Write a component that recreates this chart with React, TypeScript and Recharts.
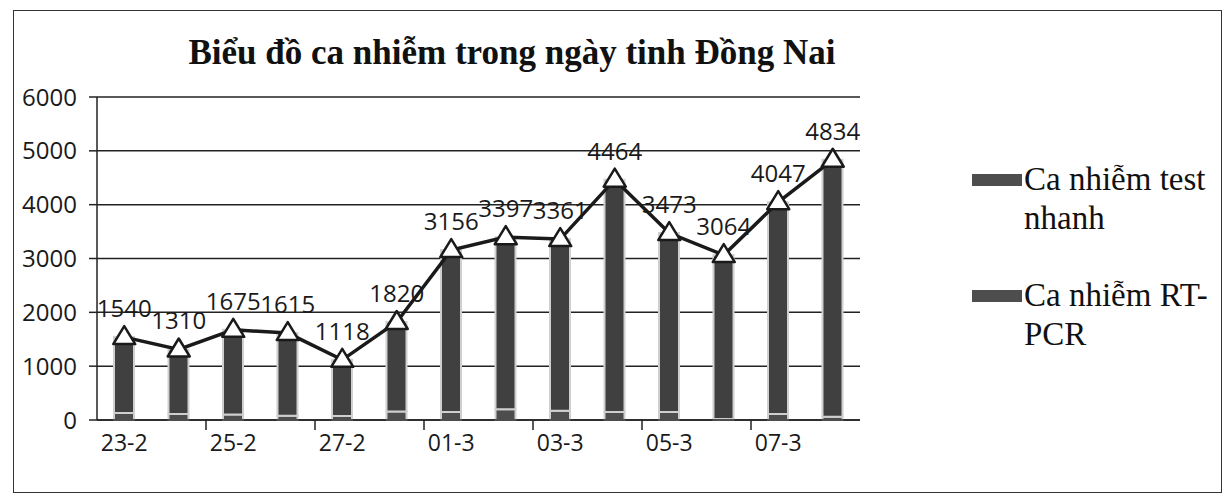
import {
    ComposedChart,
    Bar,
    Line,
    XAxis,
    YAxis,
    CartesianGrid,
    Legend,
    LabelList,
} from 'recharts';

const categories = ['23-2', '24-2', '25-2', '26-2', '27-2', '28-2', '01-3', '02-3', '03-3', '04-3', '05-3', '06-3', '07-3', '08-3'];
const totalCases = [1540, 1310, 1675, 1615, 1118, 1820, 3156, 3397, 3361, 4464, 3473, 3064, 4047, 4834];
const rtPcrCases = [130, 110, 100, 80, 75, 160, 150, 200, 170, 150, 150, 20, 110, 60];
const testNhanhCases = [1410, 1200, 1575, 1535, 1043, 1660, 3006, 3197, 3191, 4314, 3323, 3044, 3937, 4774];
const yTicks = [0, 1000, 2000, 3000, 4000, 5000, 6000];

const data = categories.map((name, i) => ({
    name,
    rtPcr: rtPcrCases[i],
    testNhanh: testNhanhCases[i],
    total: totalCases[i],
}));

const W = 1224;
const H = 504;
const MARGIN = { top: 97, right: 114, bottom: 54, left: 17 };
const Y_AXIS_W = 80;
const LEGEND_W = 250;
const PLOT_W = W - MARGIN.left - Y_AXIS_W - MARGIN.right - LEGEND_W;
const STEP = PLOT_W / categories.length;

const sans = '"Open Sans", "Liberation Sans", sans-serif';
const serif = '"Liberation Serif", "DejaVu Serif", serif';

const XTick = (props: any) => {
    const { x, y, payload, index } = props;
    return (
        <g>
            {index % 2 === 0 && (
                <text x={x} y={y + 23} textAnchor="middle" fontFamily={sans} fontSize={23} fill="#1a1a1a">
                    {payload.value}
                </text>
            )}
            {index % 2 === 1 && index < categories.length - 1 && (
                <line x1={x + STEP / 2} x2={x + STEP / 2} y1={y - 8} y2={y + 2} stroke="#222" strokeWidth={1.5} />
            )}
        </g>
    );
};

const Triangle = (props: any) => {
    const { cx, cy, index } = props;
    if (cx == null || cy == null) return <g key={index} />;
    return (
        <path
            key={index}
            d={`M${cx},${cy - 11} L${cx + 11},${cy + 7} L${cx - 11},${cy + 7} Z`}
            fill="#fff"
            stroke="#1a1a1a"
            strokeWidth={2.5}
            strokeLinejoin="round"
        />
    );
};

const legendLabels: Record<string, string> = {
    testNhanh: 'Ca nhiễm test nhanh',
    rtPcr: 'Ca nhiễm RT-PCR',
};

const LegendContent = (props: any) => {
    const items = (props.payload || []).filter((item: any) => legendLabels[item.dataKey]).reverse();
    return (
        <div style={{ width: LEGEND_W }}>
            {items.map((item: any) => (
                <div key={item.dataKey} style={{ display: 'flex', alignItems: 'flex-start', marginBottom: 38 }}>
                    <div style={{ width: 50, height: 12, background: '#4d4d4d', marginTop: 14, flexShrink: 0 }} />
                    <div style={{ width: 200, fontFamily: serif, fontSize: 33, lineHeight: '39px', color: '#111', marginLeft: 2 }}>
                        {legendLabels[item.dataKey]}
                    </div>
                </div>
            ))}
        </div>
    );
};

const App = () => {
    return (
        <div style={{ position: 'absolute', left: 0, top: 0, width: W, height: H, background: '#fff' }}>
            <div
                style={{
                    position: 'absolute',
                    left: 13,
                    top: 10,
                    width: 1207,
                    height: 481,
                    border: '1.5px solid #333',
                }}
            />
            <div
                style={{
                    position: 'absolute',
                    left: 0,
                    top: 33,
                    width: 1024,
                    textAlign: 'center',
                    fontFamily: serif,
                    fontWeight: 'bold',
                    fontSize: 35,
                    color: '#111',
                }}
            >
                Biểu đồ ca nhiễm trong ngày tinh Đồng Nai
            </div>
            <ComposedChart width={W} height={H} data={data} margin={MARGIN}>
                <CartesianGrid vertical={false} stroke="#222" strokeWidth={1.5} />
                <XAxis
                    dataKey="name"
                    interval={0}
                    tickLine={false}
                    axisLine={{ stroke: '#222', strokeWidth: 1.5 }}
                    tick={<XTick />}
                />
                <YAxis
                    width={Y_AXIS_W}
                    domain={[0, 6000]}
                    ticks={yTicks}
                    interval={0}
                    axisLine={{ stroke: '#222', strokeWidth: 1.5 }}
                    tickLine={{ stroke: '#222', strokeWidth: 1.5 }}
                    tickSize={8}
                    tickMargin={12}
                    tick={{ fontFamily: sans, fontSize: 24, fill: '#1a1a1a' }}
                />
                <Legend
                    layout="vertical"
                    align="right"
                    verticalAlign="middle"
                    wrapperStyle={{ left: 972, top: 160, width: LEGEND_W }}
                    content={<LegendContent />}
                />
                <Bar dataKey="rtPcr" stackId="a" barSize={20} fill="#4d4d4d" stroke="#cfcfcf" strokeWidth={2} isAnimationActive={false} />
                <Bar dataKey="testNhanh" stackId="a" barSize={20} fill="#404040" stroke="#cfcfcf" strokeWidth={2} isAnimationActive={false} />
                <Line
                    dataKey="total"
                    legendType="none"
                    stroke="#1a1a1a"
                    strokeWidth={3.5}
                    dot={<Triangle />}
                    activeDot={false}
                    isAnimationActive={false}
                >
                    <LabelList dataKey="total" position="top" offset={20} fontFamily={sans} fontSize={24} fill="#1a1a1a" />
                </Line>
            </ComposedChart>
        </div>
    );
};

export default App;
